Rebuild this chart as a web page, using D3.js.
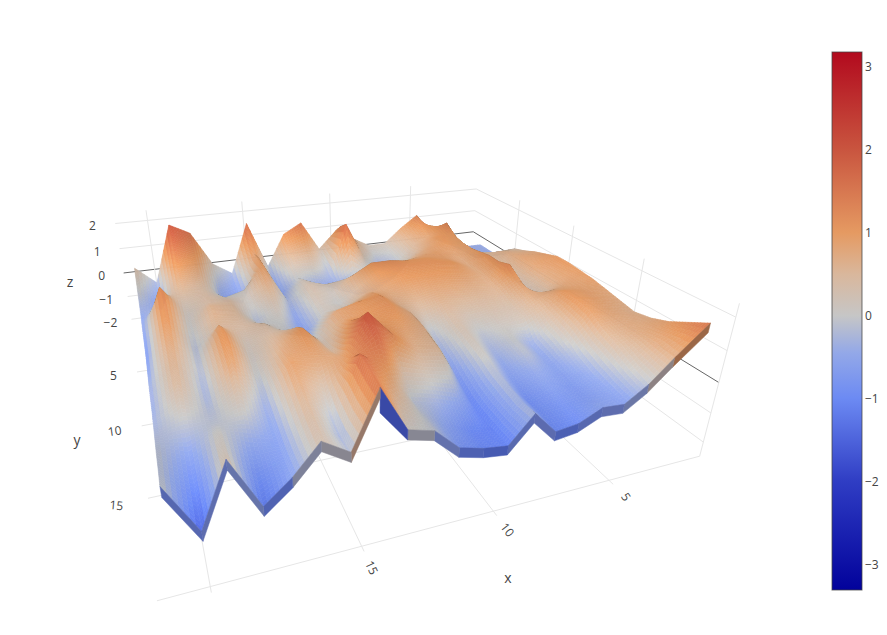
<!DOCTYPE html>
<html><head><meta charset="utf-8">
<script src="https://cdnjs.cloudflare.com/ajax/libs/d3/7.8.5/d3.min.js"></script>
<style>html,body{margin:0;background:#fff}svg{display:block}text{font-family:"Open Sans",sans-serif;fill:#444}</style>
</head><body><svg id="c" width="887" height="635"></svg>
<script>
const xValues=[.6,2,3,4,5,6,7,8,9,10,11,12,13,14,15,16,17,18,19,20,21];
const yValues=[1,2,3,4,5,6,7,8,9,10,11,12,13,14,15,16,17,18,19];
const zValues=[
[-.4,-.4,-.1,.2,1.3,.8,.2,.2,.6,1.0,.3,1.5,1.1,-.2,1.7,-.3,.2,1.55,1.95,-.3,.4],
[-.4,-.4,.0,.9,1.1,.6,.0,-.1,.6,1.4,-.1,.9,.7,-.4,1.3,-.5,-.1,1.3,1.75,-.5,.2],
[-.4,-.4,.1,1.3,.8,.5,-.1,-.5,.2,1.7,-.3,.3,.3,-.6,.9,-.6,-.4,1.0,1.3,-.7,.0],
[-.1,-.1,.2,1.0,1.0,.6,.1,-.2,-.2,.2,-.4,-.4,.0,-.6,1.0,-.7,-.5,.7,.9,-.5,-.3],
[.35,.3,.4,.9,1.0,.8,.5,-.2,-.6,-.7,-.4,-.1,.2,-.4,1.0,.1,-.1,.4,.6,.0,-.5],
[.5,.6,.5,.9,.8,.9,.8,.7,.2,.2,.3,.2,.3,-.3,.8,.1,.2,.4,.3,.7,-.5],
[.7,.7,.4,1.0,.7,.9,1.0,1.0,1.1,1.1,.7,.1,.3,-.5,.5,.0,.4,.4,.1,1.2,-.6],
[.85,.8,.3,1.1,.7,1.0,1.1,1.1,1.1,1.0,.5,0,.2,-.6,.2,-.2,.5,.6,.0,1.3,-.7],
[1.0,.8,.3,1.1,.7,.9,1.0,1.0,1.0,.8,.6,.2,.1,-.6,.0,0,.5,.6,-.1,1.2,-.7],
[1.0,.7,.2,1.25,.6,.7,.8,.8,.7,.7,.9,.6,.4,-.3,-.1,.4,.4,.5,-.2,1.1,-.6],
[.95,.7,.1,.9,.5,.5,.5,.6,.4,.6,1.1,1.0,.8,.0,.4,.4,.2,.9,-.2,.9,-.5],
[.9,.8,.7,.7,.3,.3,.2,.4,-.1,.7,1.1,1.0,.8,.2,.8,.5,.1,1.1,-.2,.7,-.4],
[.8,.9,1.0,.5,.2,.1,-.1,.3,-.3,.7,1.0,1.0,1.1,.3,1.1,.6,.0,1.1,-.3,.6,-.4],
[.7,.9,1.0,.3,-.4,.0,-.3,.2,-.5,.6,.8,1.1,1.5,.5,.95,.75,-.2,.9,-.3,.5,-.4],
[.6,.8,.9,.1,-.5,-.1,-.5,.1,-.8,.5,.6,1.2,2.0,.8,.7,.9,-.4,.4,-.2,.2,-.3],
[.7,.7,.6,-.2,-.6,-.4,-.7,-.1,-1,.0,.2,.4,1.7,1.1,.2,.75,-.5,.0,-.1,-.2,-.2],
[.9,.7,.4,-.4,-.7,-.6,-.9,-.2,-1.1,-.6,-.3,-.1,1.0,1.6,-.2,.55,-.6,-.5,.1,-.7,-.1],
[1.2,.7,.1,-.5,-.7,-.8,-.9,-.3,-1.1,-1.0,-.6,-.1,.5,1.5,-.3,.4,-.6,-.9,.2,-1.1,-.1],
[1.5,.6,-.1,-.6,-.55,-.9,-1,-.25,-1.1,-1.0,-.8,-.1,.1,1.45,-.2,.3,-.55,-1.2,.35,-1.5,0]
];
// how far the folded lip under the nearest row hangs, per segment [lower x end, higher x end]
const lipDefault=.3;
const lipOverride={12:[.3,.7]};
const lipColorOverride={12:-1.4};
const xTicks=[5,10,15], xGrid=[5,10,15,20], yTicks=[5,10,15], zTicks=[-2,-1,0,1,2], cbTicks=[-3,-2,-1,0,1,2,3];
const cmin=-3.31,cmax=3.18;
const colorDomain=[-3.31,-2,-1,-.45,0,.5,1,2,3.18];
const colorRange=["#02029b","#2f3dc4","#6c8af3","#93a8e8","#c6c6c6","#d9b79c","#e59a62","#c9553f","#b20a1e"];
const xMin=.6,xMax=21.6,yMin=0,yMax=20,zMin=-2.5,zMax=2.4;
// camera calibration: scene position -> pixel position, fitted below
const calib=[[20,0,2,147.7,220],[15,0,2,241.7,211],[10,0,2,328,203],[5,0,2,409,197],[.6,0,2,478,189],[.6,0,1,476,211],[.6,0,0,474,232],
[20,0,0,153,269],[.6,20,2,735,317],[.6,20,1,728,350],[.6,20,0,719,381],[.6,20,-2.5,700,456],
[20,20,-2.5,213,588],[15,20,-2.5,362,548],[10,20,-2.5,493,513],[5,20,-2.5,608,482],
[15,15,-2.5,321,460],[10,15,-2.5,435,434],[5,15,-2.5,535,410],[21.6,0,2,117,223],[21.6,0,-2,132,319]];
function fit(pts){const A=[],B=[];
 pts.forEach(([x,y,z,u,v])=>{x/=10;y/=10;z/=2;u/=500;v/=500;
  A.push([x,y,z,1,0,0,0,0,-u*x,-u*y,-u*z]);B.push(u);
  A.push([0,0,0,0,x,y,z,1,-v*x,-v*y,-v*z]);B.push(v);});
 const n=11,M=d3.range(n).map(i=>d3.range(n+1).map(j=>j<n?d3.sum(A,(r)=>r[i]*r[j]):d3.sum(A,(r,k)=>r[i]*B[k])));
 for(let i=0;i<n;i++){let p=i;for(let k=i+1;k<n;k++)if(Math.abs(M[k][i])>Math.abs(M[p][i]))p=k;[M[i],M[p]]=[M[p],M[i]];
  for(let k=0;k<n;k++)if(k!==i){const f=M[k][i]/M[i][i];for(let j=i;j<=n;j++)M[k][j]-=f*M[i][j];}}
 return M.map((r,i)=>r[n]/r[i]);}
const C=fit(calib);
function project(x,y,z){x/=10;y/=10;z/=2;const w=C[8]*x+C[9]*y+C[10]*z+1;
 return [500*(C[0]*x+C[1]*y+C[2]*z+C[3])/w,500*(C[4]*x+C[5]*y+C[6]*z+C[7])/w,w];}
const color=d3.scaleLinear().domain(colorDomain).range(colorRange).interpolate(d3.interpolateRgb).clamp(true);
const svg=d3.select("#c");
const line=d3.line().x(d=>d[0]).y(d=>d[1]);
const seg=(a,b)=>line([project(...a),project(...b)]);
// grid
const grid=[];
const LG="#e6e6e6",DK="#666";
[...zTicks].forEach(z=>{grid.push([[xMax,0,z],[xMin,0,z],z===0?DK:LG]);grid.push([[xMin,0,z],[xMin,yMax,z],z===0?DK:LG]);});
xGrid.forEach(x=>{grid.push([[x,0,-2.5],[x,0,zMax],LG]);grid.push([[x,0,zMin],[x,yMax+.25,zMin],LG]);});
yTicks.concat([yMax]).forEach(y=>{grid.push([[xMin,y,zMin],[xMin,y,zMax],LG]);});
yTicks.forEach(y=>grid.push([[xMax,y,zMin],[xMin,y,zMin],LG]));
grid.push([[xMax,yMax,zMin],[xMin,yMax,zMin],LG]);
svg.append("g").selectAll("path").data(grid).join("path").attr("d",d=>seg(d[0],d[1])).attr("stroke",d=>d[2]).attr("fill","none").attr("stroke-width",1);
// surface
const nx=xValues.length,ny=yValues.length;
const Z=(i,j)=>zValues[Math.max(0,Math.min(ny-1,j))][Math.max(0,Math.min(nx-1,i))];
const L=[.62,.75,.2],slopeK=1.6;
const shadeGrid=yValues.map((_,j)=>xValues.map((_,i)=>{
 const dx=(Z(i+1,j)-Z(i-1,j))/((i>0&&i<nx-1)?2:1),dy=(Z(i,j+1)-Z(i,j-1))/((j>0&&j<ny-1)?2:1);
 const N=[-dx*slopeK,-dy*slopeK,1],len=Math.hypot(...N);
 const d=(N[0]*L[0]+N[1]*L[1]+N[2]*L[2])/len;
 return .95+.14*Math.max(-.25,d);}));
const sub=7,quads=[];
const bil=(g,i,j,a,b)=>(g[j][i]*(1-a)+g[j][i+1]*a)*(1-b)+(g[j+1][i]*(1-a)+g[j+1][i+1]*a)*b;
for(let j=0;j<ny-1;j++)for(let i=0;i<nx-1;i++)for(let p=0;p<sub;p++)for(let q=0;q<sub;q++){
 const pts=[[p,q],[p+1,q],[p+1,q+1],[p,q+1]].map(([u,v])=>{u/=sub;v/=sub;
  return project(xValues[i]*(1-u)+xValues[i+1]*u,yValues[j]+v,bil(zValues,i,j,u,v));});
 const zc=bil(zValues,i,j,(p+.5)/sub,(q+.5)/sub),sh=bil(shadeGrid,i,j,(p+.5)/sub,(q+.5)/sub);
 const area=d3.polygonArea(pts);
 const c=d3.rgb(color(zc)),f=area<0?sh*.72:sh;
 quads.push({pts,w:d3.mean(pts,d=>d[2]),fill:d3.rgb(Math.min(255,c.r*f),Math.min(255,c.g*f),Math.min(255,c.b*f)).formatHex()});}
quads.sort((a,b)=>d3.descending(Math.abs(a.w),Math.abs(b.w)));
if(quads[0].w<0)quads.reverse();
const closed=d3.line().curve(d3.curveLinearClosed);
svg.append("g").selectAll("path").data(quads).join("path").attr("d",d=>closed(d.pts.map(p=>[p[0],p[1]]))).attr("fill",d=>d.fill).attr("stroke",d=>d.fill).attr("stroke-width",.6);
// lip on the nearest row
const lastRow=zValues[ny-1],skirt=d3.range(nx-1).map(i=>({i}));
const lipFill=({i})=>{const v=lipColorOverride[i]!==undefined?lipColorOverride[i]:(lastRow[i]+lastRow[i+1])/2;const c=d3.rgb(color(v));return d3.rgb(c.r*.68,c.g*.68,c.b*.74).formatHex();};
svg.append("g").selectAll("path").data(skirt).join("path").attr("d",({i})=>{const y=yValues[ny-1],x0=xValues[i],x1=xValues[i+1],a=lastRow[i],b=lastRow[i+1],dr=lipOverride[i]||[lipDefault,lipDefault];
  return closed([project(x0,y,a),project(x1,y,b),project(x1,y,b-dr[1]),project(x0,y,a-dr[0])].map(p=>[p[0],p[1]]));})
 .attr("fill",lipFill).attr("stroke",lipFill).attr("stroke-width",.5);
// tick labels
const lab=svg.append("g").attr("font-size",12).attr("text-anchor","middle").attr("dominant-baseline","central");
const txt=(s,p,r)=>lab.append("text").attr("transform",`translate(${p[0]},${p[1]}) rotate(${r})`).text(s);
const fmt=d3.format("d");
const xRot={5:55,10:52,15:65},yRot={5:0,10:-8,15:5};
xTicks.forEach(v=>txt(fmt(v),project(v,21,zMin),xRot[v]));
yTicks.forEach(v=>txt(fmt(v),project(22.7,v,zMin),yRot[v]));
zTicks.forEach(v=>txt(fmt(v),project(22.7,0,v),0));
[["x",508,577],["y",77,439],["z",70,281]].forEach(([s,x,y])=>svg.append("text").attr("x",x).attr("y",y).attr("font-size",14).attr("text-anchor","middle").attr("dominant-baseline","central").text(s));
// colour bar
const cbY=d3.scaleLinear().domain([cmin,cmax]).range([590,52]);
const defs=svg.append("defs").append("linearGradient").attr("id","cb").attr("x1",0).attr("x2",0).attr("y1",1).attr("y2",0);
colorDomain.forEach((d,i)=>defs.append("stop").attr("offset",(d-cmin)/(cmax-cmin)).attr("stop-color",colorRange[i]));
svg.append("rect").attr("x",832).attr("y",cbY(cmax)).attr("width",30).attr("height",cbY(cmin)-cbY(cmax)).attr("fill","url(#cb)").attr("stroke","#444").attr("stroke-opacity",.75);
const ax=svg.append("g").attr("transform","translate(862,0)").call(d3.axisRight(cbY).tickValues(cbTicks).tickSize(0).tickPadding(3).tickFormat(fmt));
ax.select(".domain").remove();
ax.selectAll("text").attr("font-size",12).attr("font-family",'"Open Sans",sans-serif').attr("fill","#444");
</script></body></html>
